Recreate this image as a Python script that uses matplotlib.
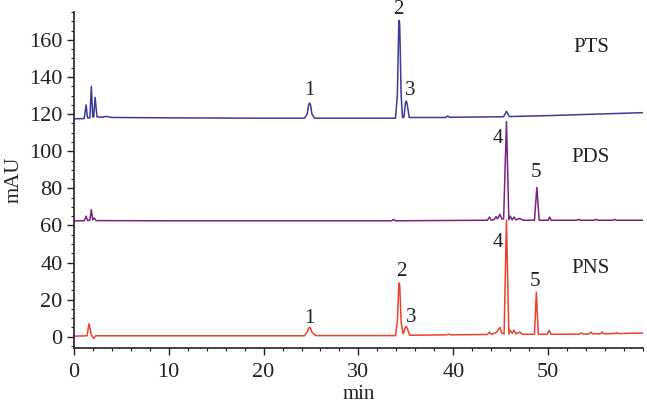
import matplotlib
matplotlib.use("Agg")
import matplotlib.pyplot as plt
from matplotlib.ticker import MultipleLocator

# --- data (time in min, signal in mAU) ---
pts_t = [0, 1.1, 1.3, 1.45, 1.7, 1.85, 2.0, 2.1, 2.25, 2.45, 3.0, 3.4, 4.0, 10, 20,
         24.3, 24.6, 24.75, 24.85, 24.95, 25.1, 25.4, 33.9, 34.1, 34.25, 34.3, 34.35, 34.5,
         34.65, 34.8, 34.95, 35.05, 35.15, 35.35, 39.2, 39.4, 39.6,
         45.3, 45.6, 45.9, 50, 55, 60]
pts_y = [117.5, 117.6, 125, 118, 118, 135, 118.5, 118.5, 129, 118.5, 118.3, 118.8, 118.2, 118.0, 117.8,
         117.8, 120, 125, 126, 125, 120, 117.8, 117.8, 130, 168, 170.5, 168, 130,
         118, 118.5, 126, 127, 125, 118.2, 118.2, 119, 118.3,
         118.6, 121.5, 118.7, 119.2, 120, 120.8]

pds_t = [0, 1.1, 1.3, 1.45, 1.7, 1.85, 2.0, 2.15, 2.35, 10, 33.5, 33.7, 33.9,
         43.6, 43.8, 44.0, 44.3, 44.5, 44.65, 44.9, 45.1, 45.3, 45.6, 45.85, 46.0, 46.2,
         46.4, 46.6, 47.0, 47.3, 48.55, 48.8, 49.05, 50.0, 50.15, 50.3, 53.0, 53.2, 53.4,
         54.8, 55.0, 55.2, 56.8, 57.0, 57.2, 60]
pds_y = [62.5, 62.5, 65, 62.7, 62.8, 68.5, 63, 64, 62.6, 62.5, 62.5, 63.2, 62.5,
         62.8, 64.5, 62.8, 63.2, 64.8, 63.5, 66, 63.5, 63.5, 116, 63, 65, 63,
         64.5, 63, 63.8, 62.8, 62.8, 80.5, 62.8, 62.8, 64.5, 62.8, 62.8, 63.3, 62.8,
         62.8, 63.3, 62.8, 62.8, 63.3, 62.8, 62.8]

pns_t = [0, 1.4, 1.6, 1.85, 2.1, 2.3, 24.3, 24.6, 24.75, 24.85, 24.95, 25.1, 25.5,
         33.9, 34.1, 34.25, 34.3, 34.35, 34.5, 34.7, 34.95, 35.05, 35.15, 35.4,
         39.3, 39.5, 39.7, 43.6, 43.8, 44.0, 44.5, 44.7, 44.9, 45.1, 45.35, 45.6, 45.85,
         46.0, 46.2, 46.4, 46.6, 47.0, 47.3, 48.55, 48.75, 48.95, 49.9, 50.1, 50.3,
         53.3, 53.5, 53.7, 54.3, 54.5, 54.7, 55.5, 55.7, 55.9, 57.0, 57.2, 57.4, 60]
pns_y = [0.3, 0.5, 7, 1, -1, 0.5, 0.5, 2.5, 4.5, 5, 4.5, 2.5, 0.6,
         0.6, 8, 27.5, 29, 27.5, 8, 1.5, 5, 5.5, 4.5, 0.8,
         1, 1.5, 1, 1.2, 2.5, 1.3, 2.2, 3.5, 5, 2, 1.5, 63, 1.5,
         3.5, 1.8, 3.5, 1.5, 2.5, 1.3, 1.3, 24, 1.3, 1.3, 3.5, 1.3,
         1.4, 2, 1.4, 1.5, 2.5, 1.5, 1.6, 2.5, 1.6, 1.7, 2.2, 1.7, 2]

# peak number labels: (label, time, mAU)
pts_labels = [("1", 24.85, 133), ("2", 34.2, 176.5), ("3", 35.5, 132.5)]
pds_labels = [("4", 44.7, 107), ("5", 48.7, 88.5)]
pns_labels = [("1", 24.85, 10), ("2", 34.5, 35), ("3", 35.6, 10.5), ("4", 44.7, 51), ("5", 48.6, 30)]
names = [("PTS", 54.5, 156), ("PDS", 54.5, 96.5), ("PNS", 54.5, 37)]

plt.rcParams['font.family'] = ['Liberation Serif', 'DejaVu Serif']
fs = 15

fig = plt.figure(figsize=(6.47, 4.04), dpi=100)
ax = fig.add_axes([0.114, 0.139, 0.880, 0.831])

ax.plot(pts_t, pts_y, color='#3b3a96', lw=1.1)
ax.plot(pns_t, pns_y, color='#e8432c', lw=1.1)
ax.plot(pds_t, pds_y, color='#7a2380', lw=1.1)

for lab, t, y in pts_labels + pds_labels + pns_labels:
    ax.text(t, y, lab, ha='center', va='center', fontsize=fs, color='#222222')
for lab, t, y in names:
    ax.text(t, y, lab, ha='center', va='center', fontsize=fs, color='#222222')

ax.set_xlim(0, 60)
ax.set_ylim(-6, 175)
ax.xaxis.set_minor_locator(MultipleLocator(2))
ax.yaxis.set_minor_locator(MultipleLocator(5))
ax.set_xticks(range(0, 60, 10))
ax.set_yticks(range(0, 161, 20))
ax.tick_params(axis='both', which='major', direction='out', length=5, width=1, labelsize=16,
               colors='#222222')
ax.tick_params(axis='x', which='major', pad=6)
ax.tick_params(axis='y', which='major', pad=3)
ax.tick_params(axis='both', which='minor', direction='out', length=2.5, width=0.8, colors='#222222')

for s in ['top', 'right']:
    ax.spines[s].set_visible(False)
for s in ['left', 'bottom']:
    ax.spines[s].set_linewidth(1.2)
    ax.spines[s].set_color('#222222')

ax.set_xlabel('min', fontsize=fs, labelpad=2, color='#222222')
ax.set_ylabel('mAU', fontsize=fs, labelpad=4, color='#222222')

fig.savefig('out.png', dpi=100)
